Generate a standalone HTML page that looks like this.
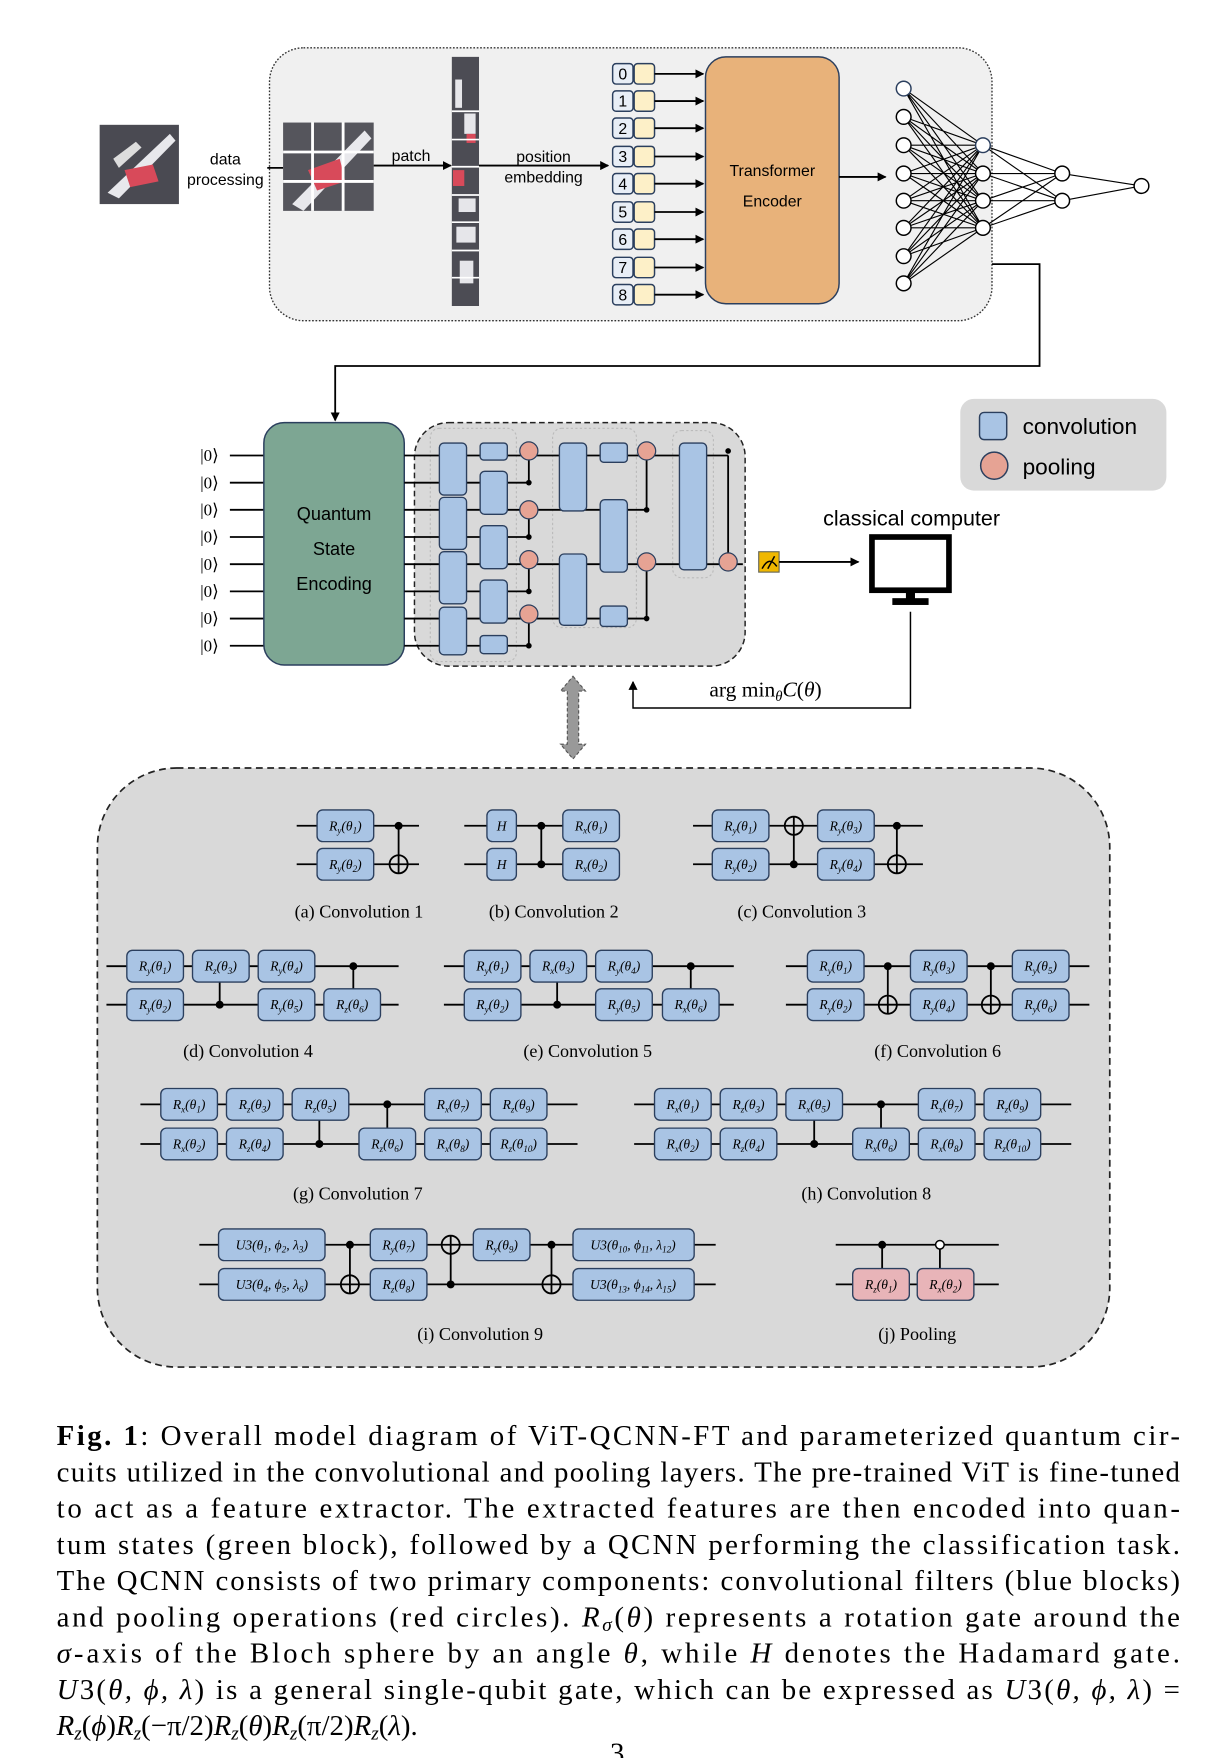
<!DOCTYPE html>
<html><head><meta charset="utf-8"><style>
html,body{margin:0;padding:0;background:#fff}
svg{display:block}
.sa{font-family:"Liberation Sans",sans-serif}
.se{font-family:"Liberation Serif",serif}
.g{font-family:"Liberation Serif",serif;font-size:12px;font-style:italic;text-anchor:middle}
.s{font-size:8px}
.cap{font-family:"Liberation Serif",serif;font-size:16px;text-anchor:middle}
.w{stroke:#000;stroke-width:1.6}
.b{fill:#a9c4e4;stroke:#2b3f5e;stroke-width:1.2}
.p{fill:#e8b4b8;stroke:#2b3f5e;stroke-width:1.2}
.t{font-family:"Liberation Serif",serif;font-size:25.5px}
</style></head><body>
<svg width="1223" height="1758" viewBox="0 0 1080 1552" xmlns="http://www.w3.org/2000/svg">
<defs>
<marker id="ah" markerWidth="8" markerHeight="8" refX="7" refY="4" orient="auto" markerUnits="userSpaceOnUse"><path d="M0,0 L8,4 L0,8 z" fill="#000"/></marker>
</defs>
<!-- TOP BOX -->
<rect x="238" y="42" width="638" height="241" rx="30" fill="#f0f0f0" stroke="#333" stroke-width="1.2" stroke-dasharray="1.5,1.5"/>
<rect x="88" y="110" width="70" height="70" fill="#4a4a52"/>
<path d="M95,170 L150,118 L155,124 L105,175 z" fill="#e8e8ec"/>
<path d="M110,150 L135,145 L140,160 L115,165 z" fill="#d84a5a"/>
<path d="M100,140 L120,125 L125,130 L105,148 z" fill="#ddd"/>
<text class="sa" x="199" y="145" font-size="14" text-anchor="middle">data</text>
<text class="sa" x="199" y="163" font-size="14" text-anchor="middle">processing</text>
<line x1="236" y1="148" x2="250" y2="148" class="w"/>
<rect x="250" y="108" width="80" height="78" fill="#55555c"/>
<path d="M258,180 L322,115 L328,122 L268,186 z" fill="#e8e8ec"/>
<path d="M272,150 L300,140 L305,160 L280,168 z" fill="#d84a5a"/>
<g stroke="#fff" stroke-width="2.5"><line x1="276" y1="108" x2="276" y2="186"/><line x1="303" y1="108" x2="303" y2="186"/><line x1="250" y1="134" x2="330" y2="134"/><line x1="250" y1="160" x2="330" y2="160"/></g>
<text class="sa" x="363" y="142" font-size="14" text-anchor="middle">patch</text>
<line x1="330" y1="146" x2="398" y2="146" class="w" marker-end="url(#ah)"/>
<rect x="399" y="50" width="24" height="220" fill="#4c4c54"/>
<g fill="#e6e6ea"><rect x="402" y="70" width="6" height="25"/><rect x="410" y="100" width="10" height="18"/><rect x="405" y="175" width="15" height="12"/><rect x="403" y="200" width="17" height="14"/><rect x="406" y="230" width="12" height="20"/></g>
<g fill="#d84a5a"><rect x="400" y="150" width="10" height="14"/><rect x="412" y="118" width="8" height="8"/></g>
<g stroke="#fff" stroke-width="1.5"><line x1="399" y1="98" x2="423" y2="98"/><line x1="399" y1="123" x2="423" y2="123"/><line x1="399" y1="147" x2="423" y2="147"/><line x1="399" y1="172" x2="423" y2="172"/><line x1="399" y1="196" x2="423" y2="196"/><line x1="399" y1="221" x2="423" y2="221"/><line x1="399" y1="245" x2="423" y2="245"/></g>
<text class="sa" x="480" y="143" font-size="14" text-anchor="middle">position</text>
<text class="sa" x="480" y="161" font-size="14" text-anchor="middle">embedding</text>
<line x1="423" y1="146" x2="537" y2="146" class="w" marker-end="url(#ah)"/>
<g class="sa" font-size="14" text-anchor="middle">
<g><rect x="541" y="56" width="18" height="18" rx="3" fill="#e8eef6" stroke="#2b3f5e" stroke-width="1.3"/><rect x="560" y="56" width="18" height="18" rx="3" fill="#fdf0c8" stroke="#2b3f5e" stroke-width="1.3"/><text x="550" y="70">0</text><line x1="578" y1="65" x2="621" y2="65" class="w" marker-end="url(#ah)"/></g>
<g><rect x="541" y="80" width="18" height="18" rx="3" fill="#e8eef6" stroke="#2b3f5e" stroke-width="1.3"/><rect x="560" y="80" width="18" height="18" rx="3" fill="#fdf0c8" stroke="#2b3f5e" stroke-width="1.3"/><text x="550" y="94">1</text><line x1="578" y1="89" x2="621" y2="89" class="w" marker-end="url(#ah)"/></g>
<g><rect x="541" y="104" width="18" height="18" rx="3" fill="#e8eef6" stroke="#2b3f5e" stroke-width="1.3"/><rect x="560" y="104" width="18" height="18" rx="3" fill="#fdf0c8" stroke="#2b3f5e" stroke-width="1.3"/><text x="550" y="118">2</text><line x1="578" y1="113" x2="621" y2="113" class="w" marker-end="url(#ah)"/></g>
<g><rect x="541" y="129" width="18" height="18" rx="3" fill="#e8eef6" stroke="#2b3f5e" stroke-width="1.3"/><rect x="560" y="129" width="18" height="18" rx="3" fill="#fdf0c8" stroke="#2b3f5e" stroke-width="1.3"/><text x="550" y="143">3</text><line x1="578" y1="138" x2="621" y2="138" class="w" marker-end="url(#ah)"/></g>
<g><rect x="541" y="153" width="18" height="18" rx="3" fill="#e8eef6" stroke="#2b3f5e" stroke-width="1.3"/><rect x="560" y="153" width="18" height="18" rx="3" fill="#fdf0c8" stroke="#2b3f5e" stroke-width="1.3"/><text x="550" y="167">4</text><line x1="578" y1="162" x2="621" y2="162" class="w" marker-end="url(#ah)"/></g>
<g><rect x="541" y="178" width="18" height="18" rx="3" fill="#e8eef6" stroke="#2b3f5e" stroke-width="1.3"/><rect x="560" y="178" width="18" height="18" rx="3" fill="#fdf0c8" stroke="#2b3f5e" stroke-width="1.3"/><text x="550" y="192">5</text><line x1="578" y1="187" x2="621" y2="187" class="w" marker-end="url(#ah)"/></g>
<g><rect x="541" y="202" width="18" height="18" rx="3" fill="#e8eef6" stroke="#2b3f5e" stroke-width="1.3"/><rect x="560" y="202" width="18" height="18" rx="3" fill="#fdf0c8" stroke="#2b3f5e" stroke-width="1.3"/><text x="550" y="216">6</text><line x1="578" y1="211" x2="621" y2="211" class="w" marker-end="url(#ah)"/></g>
<g><rect x="541" y="227" width="18" height="18" rx="3" fill="#e8eef6" stroke="#2b3f5e" stroke-width="1.3"/><rect x="560" y="227" width="18" height="18" rx="3" fill="#fdf0c8" stroke="#2b3f5e" stroke-width="1.3"/><text x="550" y="241">7</text><line x1="578" y1="236" x2="621" y2="236" class="w" marker-end="url(#ah)"/></g>
<g><rect x="541" y="251" width="18" height="18" rx="3" fill="#e8eef6" stroke="#2b3f5e" stroke-width="1.3"/><rect x="560" y="251" width="18" height="18" rx="3" fill="#fdf0c8" stroke="#2b3f5e" stroke-width="1.3"/><text x="550" y="265">8</text><line x1="578" y1="260" x2="621" y2="260" class="w" marker-end="url(#ah)"/></g>
</g>
<rect x="623" y="50" width="118" height="218" rx="18" fill="#e8b27a" stroke="#2b3f5e" stroke-width="1.3"/>
<text class="sa" x="682" y="155" font-size="14" text-anchor="middle">Transformer</text>
<text class="sa" x="682" y="182" font-size="14" text-anchor="middle">Encoder</text>
<line x1="741" y1="156" x2="782" y2="156" class="w" marker-end="url(#ah)"/>
<g stroke="#000" stroke-width="1">
<path d="M798,78L868,128M798,78L868,153M798,78L868,177M798,78L868,201
M798,103L868,128M798,103L868,153M798,103L868,177M798,103L868,201
M798,128L868,128M798,128L868,153M798,128L868,177M798,128L868,201
M798,153L868,128M798,153L868,153M798,153L868,177M798,153L868,201
M798,177L868,128M798,177L868,153M798,177L868,177M798,177L868,201
M798,201L868,128M798,201L868,153M798,201L868,177M798,201L868,201
M798,226L868,128M798,226L868,153M798,226L868,177M798,226L868,201
M798,250L868,128M798,250L868,153M798,250L868,177M798,250L868,201
M868,128L938,153M868,128L938,177M868,153L938,153M868,153L938,177M868,177L938,153M868,177L938,177M868,201L938,153M868,201L938,177
M938,153L1008,164M938,177L1008,164"/>
</g>
<g fill="#fff" stroke="#000" stroke-width="1.3">
<circle cx="798" cy="78" r="6.5" stroke="#2b3f5e"/><circle cx="798" cy="103" r="6.5"/><circle cx="798" cy="128" r="6.5"/><circle cx="798" cy="153" r="6.5"/><circle cx="798" cy="177" r="6.5"/><circle cx="798" cy="201" r="6.5"/><circle cx="798" cy="226" r="6.5"/><circle cx="798" cy="250" r="6.5"/>
<circle cx="868" cy="128" r="6.5" stroke="#2b3f5e"/><circle cx="868" cy="153" r="6.5"/><circle cx="868" cy="177" r="6.5"/><circle cx="868" cy="201" r="6.5"/>
<circle cx="938" cy="153" r="6.5"/><circle cx="938" cy="177" r="6.5"/><circle cx="1008" cy="164" r="6.5"/>
</g>
<path d="M876,233 L918,233 L918,323 L296,323 L296,371" fill="none" class="w" marker-end="url(#ah)"/>
<g class="se" font-size="15" text-anchor="middle">
<text x="185" y="407">|0⟩</text><text x="185" y="431">|0⟩</text><text x="185" y="455">|0⟩</text><text x="185" y="479">|0⟩</text><text x="185" y="503">|0⟩</text><text x="185" y="527">|0⟩</text><text x="185" y="551">|0⟩</text><text x="185" y="575">|0⟩</text>
</g>
<g class="w"><line x1="203" y1="402" x2="234" y2="402"/><line x1="203" y1="426" x2="234" y2="426"/><line x1="203" y1="450" x2="234" y2="450"/><line x1="203" y1="474" x2="234" y2="474"/><line x1="203" y1="498" x2="234" y2="498"/><line x1="203" y1="522" x2="234" y2="522"/><line x1="203" y1="546" x2="234" y2="546"/><line x1="203" y1="570" x2="234" y2="570"/></g>
<rect x="233" y="373" width="124" height="214" rx="18" fill="#7da693" stroke="#2b3f5e" stroke-width="1.3"/>
<text class="sa" x="295" y="459" font-size="16" text-anchor="middle">Quantum</text>
<text class="sa" x="295" y="490" font-size="16" text-anchor="middle">State</text>
<text class="sa" x="295" y="521" font-size="16" text-anchor="middle">Encoding</text>
<rect x="366" y="373" width="292" height="215" rx="30" fill="#d9d9d9" stroke="#222" stroke-width="1.3" stroke-dasharray="5,3"/>
<g fill="none" stroke="#bbb" stroke-width="1" stroke-dasharray="2,2"><rect x="380" y="378" width="76" height="206" rx="8"/><rect x="488" y="378" width="74" height="176" rx="8"/><rect x="594" y="380" width="36" height="130" rx="8"/></g>
<g class="w">
<line x1="357" y1="402" x2="643" y2="402"/><line x1="357" y1="426" x2="467" y2="426"/><line x1="357" y1="450" x2="571" y2="450"/><line x1="357" y1="474" x2="467" y2="474"/><line x1="357" y1="498" x2="656" y2="498"/><line x1="357" y1="522" x2="467" y2="522"/><line x1="357" y1="546" x2="571" y2="546"/><line x1="357" y1="570" x2="467" y2="570"/>
<line x1="467" y1="402" x2="467" y2="426"/><line x1="467" y1="450" x2="467" y2="474"/><line x1="467" y1="498" x2="467" y2="522"/><line x1="467" y1="546" x2="467" y2="570"/>
<line x1="571" y1="402" x2="571" y2="450"/><line x1="571" y1="498" x2="571" y2="546"/><line x1="643" y1="402" x2="643" y2="498"/>
</g>
<g class="b">
<rect x="388" y="391" width="24" height="46" rx="4"/><rect x="388" y="439" width="24" height="46" rx="4"/><rect x="388" y="487" width="24" height="46" rx="4"/><rect x="388" y="536" width="24" height="42" rx="4"/>
<rect x="424" y="391" width="24" height="15" rx="3"/><rect x="424" y="416" width="24" height="38" rx="4"/><rect x="424" y="464" width="24" height="38" rx="4"/><rect x="424" y="512" width="24" height="38" rx="4"/><rect x="424" y="561" width="24" height="16" rx="3"/>
<rect x="494" y="391" width="24" height="60" rx="4"/><rect x="494" y="489" width="24" height="63" rx="4"/>
<rect x="530" y="391" width="24" height="17" rx="3"/><rect x="530" y="441" width="24" height="64" rx="4"/><rect x="530" y="535" width="24" height="18" rx="3"/>
<rect x="600" y="391" width="24" height="112" rx="4"/>
</g>
<g fill="#e6a394" stroke="#2b3f5e" stroke-width="1.1"><circle cx="467" cy="398" r="8"/><circle cx="467" cy="450" r="8"/><circle cx="467" cy="494" r="8"/><circle cx="467" cy="542" r="8"/><circle cx="571" cy="398" r="8"/><circle cx="571" cy="496" r="8"/><circle cx="643" cy="496" r="8"/></g>
<g fill="#000"><circle cx="467" cy="426" r="2.5"/><circle cx="467" cy="474" r="2.5"/><circle cx="467" cy="522" r="2.5"/><circle cx="467" cy="570" r="2.5"/><circle cx="571" cy="450" r="2.5"/><circle cx="571" cy="546" r="2.5"/><circle cx="643" cy="398" r="2.5"/></g>
<rect x="670" y="487" width="18" height="18" fill="#f0b800" stroke="#665" stroke-width="1"/>
<path d="M673,502 Q679,490 686,500 M678,502 L684,491" fill="none" stroke="#000" stroke-width="1.3"/>
<line x1="688" y1="496" x2="758" y2="496" class="w" marker-end="url(#ah)"/>
<text class="sa" x="805" y="464" font-size="19" text-anchor="middle">classical computer</text>
<rect x="770" y="474" width="68" height="47" fill="#fff" stroke="#000" stroke-width="5"/>
<rect x="800" y="522" width="8" height="8" fill="#000"/><rect x="788" y="528" width="32" height="6" fill="#000"/>
<path d="M804,540 L804,625 L559,625 L559,602" fill="none" stroke="#000" stroke-width="1.3" marker-end="url(#ah)"/>
<text class="se" x="676" y="615" font-size="19" text-anchor="middle">arg min<tspan font-style="italic" font-size="13" dy="4">θ</tspan><tspan font-style="italic" dy="-4">C</tspan>(<tspan font-style="italic">θ</tspan>)</text>
<path d="M506,597 L517,610 L511,610 L511,657 L517,657 L506,670 L495,657 L501,657 L501,610 L495,610 z" fill="#999" stroke="#555" stroke-width="1" stroke-dasharray="3,2"/>
<rect x="848" y="352" width="182" height="81" rx="12" fill="#d9d9d9"/>
<rect x="865" y="364" width="24" height="24" rx="4" fill="#a9c4e4" stroke="#2b3f5e" stroke-width="1.3"/>
<text class="sa" x="903" y="383" font-size="20">convolution</text>
<circle cx="878" cy="411" r="12" fill="#e6a394" stroke="#2b3f5e" stroke-width="1.3"/>
<text class="sa" x="903" y="419" font-size="20">pooling</text>
<!-- BOTTOM BOX -->
<rect x="86" y="678" width="894" height="529" rx="70" fill="#d9d9d9" stroke="#222" stroke-width="1.5" stroke-dasharray="6,4"/>
<g class="w"><line x1="262" y1="729" x2="370" y2="729"/><line x1="262" y1="763" x2="370" y2="763"/><line x1="352" y1="729" x2="352" y2="771"/></g>
<rect class="b" x="280" y="715" width="50" height="28" rx="5"/><text class="g" x="305" y="733">R<tspan class="s" dy="3">y</tspan><tspan dy="-3">(θ</tspan><tspan class="s" dy="3">1</tspan><tspan dy="-3">)</tspan></text>
<rect class="b" x="280" y="749" width="50" height="28" rx="5"/><text class="g" x="305" y="767">R<tspan class="s" dy="3">y</tspan><tspan dy="-3">(θ</tspan><tspan class="s" dy="3">2</tspan><tspan dy="-3">)</tspan></text>
<circle cx="352" cy="729" r="3.5"/><circle cx="352" cy="763" r="8" fill="none" class="w"/>
<text class="cap" x="317" y="810">(a) Convolution 1</text>
<g class="w"><line x1="410" y1="729" x2="547" y2="729"/><line x1="410" y1="763" x2="547" y2="763"/><line x1="478" y1="729" x2="478" y2="763"/></g>
<rect class="b" x="430" y="715" width="26" height="28" rx="5"/><text class="g" x="443" y="733">H</text>
<rect class="b" x="430" y="749" width="26" height="28" rx="5"/><text class="g" x="443" y="767">H</text>
<circle cx="478" cy="729" r="3.5"/><circle cx="478" cy="763" r="3.5"/>
<rect class="b" x="497" y="715" width="50" height="28" rx="5"/><text class="g" x="522" y="733">R<tspan class="s" dy="3">x</tspan><tspan dy="-3">(θ</tspan><tspan class="s" dy="3">1</tspan><tspan dy="-3">)</tspan></text>
<rect class="b" x="497" y="749" width="50" height="28" rx="5"/><text class="g" x="522" y="767">R<tspan class="s" dy="3">x</tspan><tspan dy="-3">(θ</tspan><tspan class="s" dy="3">2</tspan><tspan dy="-3">)</tspan></text>
<text class="cap" x="489" y="810">(b) Convolution 2</text>
<g class="w"><line x1="612" y1="729" x2="815" y2="729"/><line x1="612" y1="763" x2="815" y2="763"/><line x1="701" y1="721" x2="701" y2="763"/><line x1="792" y1="729" x2="792" y2="771"/></g>
<rect class="b" x="629" y="715" width="50" height="28" rx="5"/><text class="g" x="654" y="733">R<tspan class="s" dy="3">y</tspan><tspan dy="-3">(θ</tspan><tspan class="s" dy="3">1</tspan><tspan dy="-3">)</tspan></text>
<rect class="b" x="629" y="749" width="50" height="28" rx="5"/><text class="g" x="654" y="767">R<tspan class="s" dy="3">y</tspan><tspan dy="-3">(θ</tspan><tspan class="s" dy="3">2</tspan><tspan dy="-3">)</tspan></text>
<circle cx="701" cy="729" r="8" fill="none" class="w"/><circle cx="701" cy="763" r="3.5"/>
<rect class="b" x="722" y="715" width="50" height="28" rx="5"/><text class="g" x="747" y="733">R<tspan class="s" dy="3">y</tspan><tspan dy="-3">(θ</tspan><tspan class="s" dy="3">3</tspan><tspan dy="-3">)</tspan></text>
<rect class="b" x="722" y="749" width="50" height="28" rx="5"/><text class="g" x="747" y="767">R<tspan class="s" dy="3">y</tspan><tspan dy="-3">(θ</tspan><tspan class="s" dy="3">4</tspan><tspan dy="-3">)</tspan></text>
<circle cx="792" cy="729" r="3.5"/><circle cx="792" cy="763" r="8" fill="none" class="w"/>
<text class="cap" x="708" y="810">(c) Convolution 3</text>
<g class="w"><line x1="94" y1="853" x2="352" y2="853"/><line x1="94" y1="887" x2="352" y2="887"/><line x1="194" y1="867" x2="194" y2="887"/><line x1="312" y1="853" x2="312" y2="873"/></g>
<rect class="b" x="112" y="839" width="50" height="28" rx="5"/><text class="g" x="137" y="857">R<tspan class="s" dy="3">y</tspan><tspan dy="-3">(θ</tspan><tspan class="s" dy="3">1</tspan><tspan dy="-3">)</tspan></text>
<rect class="b" x="170" y="839" width="50" height="28" rx="5"/><text class="g" x="195" y="857">R<tspan class="s" dy="3">z</tspan><tspan dy="-3">(θ</tspan><tspan class="s" dy="3">3</tspan><tspan dy="-3">)</tspan></text>
<rect class="b" x="228" y="839" width="50" height="28" rx="5"/><text class="g" x="253" y="857">R<tspan class="s" dy="3">y</tspan><tspan dy="-3">(θ</tspan><tspan class="s" dy="3">4</tspan><tspan dy="-3">)</tspan></text>
<rect class="b" x="112" y="873" width="50" height="28" rx="5"/><text class="g" x="137" y="891">R<tspan class="s" dy="3">y</tspan><tspan dy="-3">(θ</tspan><tspan class="s" dy="3">2</tspan><tspan dy="-3">)</tspan></text>
<rect class="b" x="228" y="873" width="50" height="28" rx="5"/><text class="g" x="253" y="891">R<tspan class="s" dy="3">y</tspan><tspan dy="-3">(θ</tspan><tspan class="s" dy="3">5</tspan><tspan dy="-3">)</tspan></text>
<rect class="b" x="286" y="873" width="50" height="28" rx="5"/><text class="g" x="311" y="891">R<tspan class="s" dy="3">z</tspan><tspan dy="-3">(θ</tspan><tspan class="s" dy="3">6</tspan><tspan dy="-3">)</tspan></text>
<circle cx="194" cy="887" r="3.5"/><circle cx="312" cy="853" r="3.5"/>
<text class="cap" x="219" y="933">(d) Convolution 4</text>
<g class="w"><line x1="392" y1="853" x2="648" y2="853"/><line x1="392" y1="887" x2="648" y2="887"/><line x1="492" y1="867" x2="492" y2="887"/><line x1="610" y1="853" x2="610" y2="873"/></g>
<rect class="b" x="410" y="839" width="50" height="28" rx="5"/><text class="g" x="435" y="857">R<tspan class="s" dy="3">y</tspan><tspan dy="-3">(θ</tspan><tspan class="s" dy="3">1</tspan><tspan dy="-3">)</tspan></text>
<rect class="b" x="468" y="839" width="50" height="28" rx="5"/><text class="g" x="493" y="857">R<tspan class="s" dy="3">x</tspan><tspan dy="-3">(θ</tspan><tspan class="s" dy="3">3</tspan><tspan dy="-3">)</tspan></text>
<rect class="b" x="526" y="839" width="50" height="28" rx="5"/><text class="g" x="551" y="857">R<tspan class="s" dy="3">y</tspan><tspan dy="-3">(θ</tspan><tspan class="s" dy="3">4</tspan><tspan dy="-3">)</tspan></text>
<rect class="b" x="410" y="873" width="50" height="28" rx="5"/><text class="g" x="435" y="891">R<tspan class="s" dy="3">y</tspan><tspan dy="-3">(θ</tspan><tspan class="s" dy="3">2</tspan><tspan dy="-3">)</tspan></text>
<rect class="b" x="526" y="873" width="50" height="28" rx="5"/><text class="g" x="551" y="891">R<tspan class="s" dy="3">y</tspan><tspan dy="-3">(θ</tspan><tspan class="s" dy="3">5</tspan><tspan dy="-3">)</tspan></text>
<rect class="b" x="585" y="873" width="50" height="28" rx="5"/><text class="g" x="610" y="891">R<tspan class="s" dy="3">x</tspan><tspan dy="-3">(θ</tspan><tspan class="s" dy="3">6</tspan><tspan dy="-3">)</tspan></text>
<circle cx="492" cy="887" r="3.5"/><circle cx="610" cy="853" r="3.5"/>
<text class="cap" x="519" y="933">(e) Convolution 5</text>
<g class="w"><line x1="694" y1="853" x2="962" y2="853"/><line x1="694" y1="887" x2="962" y2="887"/><line x1="784" y1="853" x2="784" y2="895"/><line x1="875" y1="853" x2="875" y2="895"/></g>
<rect class="b" x="713" y="839" width="50" height="28" rx="5"/><text class="g" x="738" y="857">R<tspan class="s" dy="3">y</tspan><tspan dy="-3">(θ</tspan><tspan class="s" dy="3">1</tspan><tspan dy="-3">)</tspan></text>
<rect class="b" x="713" y="873" width="50" height="28" rx="5"/><text class="g" x="738" y="891">R<tspan class="s" dy="3">y</tspan><tspan dy="-3">(θ</tspan><tspan class="s" dy="3">2</tspan><tspan dy="-3">)</tspan></text>
<rect class="b" x="804" y="839" width="50" height="28" rx="5"/><text class="g" x="829" y="857">R<tspan class="s" dy="3">y</tspan><tspan dy="-3">(θ</tspan><tspan class="s" dy="3">3</tspan><tspan dy="-3">)</tspan></text>
<rect class="b" x="804" y="873" width="50" height="28" rx="5"/><text class="g" x="829" y="891">R<tspan class="s" dy="3">y</tspan><tspan dy="-3">(θ</tspan><tspan class="s" dy="3">4</tspan><tspan dy="-3">)</tspan></text>
<rect class="b" x="894" y="839" width="50" height="28" rx="5"/><text class="g" x="919" y="857">R<tspan class="s" dy="3">y</tspan><tspan dy="-3">(θ</tspan><tspan class="s" dy="3">5</tspan><tspan dy="-3">)</tspan></text>
<rect class="b" x="894" y="873" width="50" height="28" rx="5"/><text class="g" x="919" y="891">R<tspan class="s" dy="3">y</tspan><tspan dy="-3">(θ</tspan><tspan class="s" dy="3">6</tspan><tspan dy="-3">)</tspan></text>
<circle cx="784" cy="853" r="3.5"/><circle cx="784" cy="887" r="8" fill="none" class="w"/><circle cx="875" cy="853" r="3.5"/><circle cx="875" cy="887" r="8" fill="none" class="w"/>
<text class="cap" x="828" y="933">(f) Convolution 6</text>
<g class="w"><line x1="124" y1="975" x2="510" y2="975"/><line x1="124" y1="1010" x2="510" y2="1010"/><line x1="282" y1="989" x2="282" y2="1010"/><line x1="342" y1="975" x2="342" y2="996"/></g>
<rect class="b" x="142" y="961" width="50" height="28" rx="5"/><text class="g" x="167" y="979">R<tspan class="s" dy="3">x</tspan><tspan dy="-3">(θ</tspan><tspan class="s" dy="3">1</tspan><tspan dy="-3">)</tspan></text>
<rect class="b" x="200" y="961" width="50" height="28" rx="5"/><text class="g" x="225" y="979">R<tspan class="s" dy="3">z</tspan><tspan dy="-3">(θ</tspan><tspan class="s" dy="3">3</tspan><tspan dy="-3">)</tspan></text>
<rect class="b" x="258" y="961" width="50" height="28" rx="5"/><text class="g" x="283" y="979">R<tspan class="s" dy="3">z</tspan><tspan dy="-3">(θ</tspan><tspan class="s" dy="3">5</tspan><tspan dy="-3">)</tspan></text>
<rect class="b" x="142" y="996" width="50" height="28" rx="5"/><text class="g" x="167" y="1014">R<tspan class="s" dy="3">x</tspan><tspan dy="-3">(θ</tspan><tspan class="s" dy="3">2</tspan><tspan dy="-3">)</tspan></text>
<rect class="b" x="200" y="996" width="50" height="28" rx="5"/><text class="g" x="225" y="1014">R<tspan class="s" dy="3">z</tspan><tspan dy="-3">(θ</tspan><tspan class="s" dy="3">4</tspan><tspan dy="-3">)</tspan></text>
<rect class="b" x="317" y="996" width="50" height="28" rx="5"/><text class="g" x="342" y="1014">R<tspan class="s" dy="3">z</tspan><tspan dy="-3">(θ</tspan><tspan class="s" dy="3">6</tspan><tspan dy="-3">)</tspan></text>
<rect class="b" x="375" y="961" width="50" height="28" rx="5"/><text class="g" x="400" y="979">R<tspan class="s" dy="3">x</tspan><tspan dy="-3">(θ</tspan><tspan class="s" dy="3">7</tspan><tspan dy="-3">)</tspan></text>
<rect class="b" x="375" y="996" width="50" height="28" rx="5"/><text class="g" x="400" y="1014">R<tspan class="s" dy="3">x</tspan><tspan dy="-3">(θ</tspan><tspan class="s" dy="3">8</tspan><tspan dy="-3">)</tspan></text>
<rect class="b" x="433" y="961" width="50" height="28" rx="5"/><text class="g" x="458" y="979">R<tspan class="s" dy="3">z</tspan><tspan dy="-3">(θ</tspan><tspan class="s" dy="3">9</tspan><tspan dy="-3">)</tspan></text>
<rect class="b" x="433" y="996" width="50" height="28" rx="5"/><text class="g" x="458" y="1014">R<tspan class="s" dy="3">z</tspan><tspan dy="-3">(θ</tspan><tspan class="s" dy="3">10</tspan><tspan dy="-3">)</tspan></text>
<circle cx="282" cy="1010" r="3.5"/><circle cx="342" cy="975" r="3.5"/>
<text class="cap" x="316" y="1059">(g) Convolution 7</text>
<g class="w"><line x1="560" y1="975" x2="946" y2="975"/><line x1="560" y1="1010" x2="946" y2="1010"/><line x1="719" y1="989" x2="719" y2="1010"/><line x1="778" y1="975" x2="778" y2="996"/></g>
<rect class="b" x="578" y="961" width="50" height="28" rx="5"/><text class="g" x="603" y="979">R<tspan class="s" dy="3">x</tspan><tspan dy="-3">(θ</tspan><tspan class="s" dy="3">1</tspan><tspan dy="-3">)</tspan></text>
<rect class="b" x="636" y="961" width="50" height="28" rx="5"/><text class="g" x="661" y="979">R<tspan class="s" dy="3">z</tspan><tspan dy="-3">(θ</tspan><tspan class="s" dy="3">3</tspan><tspan dy="-3">)</tspan></text>
<rect class="b" x="694" y="961" width="50" height="28" rx="5"/><text class="g" x="719" y="979">R<tspan class="s" dy="3">x</tspan><tspan dy="-3">(θ</tspan><tspan class="s" dy="3">5</tspan><tspan dy="-3">)</tspan></text>
<rect class="b" x="578" y="996" width="50" height="28" rx="5"/><text class="g" x="603" y="1014">R<tspan class="s" dy="3">x</tspan><tspan dy="-3">(θ</tspan><tspan class="s" dy="3">2</tspan><tspan dy="-3">)</tspan></text>
<rect class="b" x="636" y="996" width="50" height="28" rx="5"/><text class="g" x="661" y="1014">R<tspan class="s" dy="3">z</tspan><tspan dy="-3">(θ</tspan><tspan class="s" dy="3">4</tspan><tspan dy="-3">)</tspan></text>
<rect class="b" x="753" y="996" width="50" height="28" rx="5"/><text class="g" x="778" y="1014">R<tspan class="s" dy="3">x</tspan><tspan dy="-3">(θ</tspan><tspan class="s" dy="3">6</tspan><tspan dy="-3">)</tspan></text>
<rect class="b" x="811" y="961" width="50" height="28" rx="5"/><text class="g" x="836" y="979">R<tspan class="s" dy="3">x</tspan><tspan dy="-3">(θ</tspan><tspan class="s" dy="3">7</tspan><tspan dy="-3">)</tspan></text>
<rect class="b" x="811" y="996" width="50" height="28" rx="5"/><text class="g" x="836" y="1014">R<tspan class="s" dy="3">x</tspan><tspan dy="-3">(θ</tspan><tspan class="s" dy="3">8</tspan><tspan dy="-3">)</tspan></text>
<rect class="b" x="869" y="961" width="50" height="28" rx="5"/><text class="g" x="894" y="979">R<tspan class="s" dy="3">z</tspan><tspan dy="-3">(θ</tspan><tspan class="s" dy="3">9</tspan><tspan dy="-3">)</tspan></text>
<rect class="b" x="869" y="996" width="50" height="28" rx="5"/><text class="g" x="894" y="1014">R<tspan class="s" dy="3">z</tspan><tspan dy="-3">(θ</tspan><tspan class="s" dy="3">10</tspan><tspan dy="-3">)</tspan></text>
<circle cx="719" cy="1010" r="3.5"/><circle cx="778" cy="975" r="3.5"/>
<text class="cap" x="765" y="1059">(h) Convolution 8</text>
<g class="w"><line x1="176" y1="1099" x2="632" y2="1099"/><line x1="176" y1="1134" x2="632" y2="1134"/><line x1="309" y1="1099" x2="309" y2="1142"/><line x1="398" y1="1091" x2="398" y2="1134"/><line x1="487" y1="1099" x2="487" y2="1142"/></g>
<rect class="b" x="193" y="1085" width="94" height="28" rx="5"/><text class="g" x="240" y="1103">U3(θ<tspan class="s" dy="3">1</tspan><tspan dy="-3">, ϕ</tspan><tspan class="s" dy="3">2</tspan><tspan dy="-3">, λ</tspan><tspan class="s" dy="3">3</tspan><tspan dy="-3">)</tspan></text>
<rect class="b" x="193" y="1120" width="94" height="28" rx="5"/><text class="g" x="240" y="1138">U3(θ<tspan class="s" dy="3">4</tspan><tspan dy="-3">, ϕ</tspan><tspan class="s" dy="3">5</tspan><tspan dy="-3">, λ</tspan><tspan class="s" dy="3">6</tspan><tspan dy="-3">)</tspan></text>
<rect class="b" x="327" y="1085" width="50" height="28" rx="5"/><text class="g" x="352" y="1103">R<tspan class="s" dy="3">y</tspan><tspan dy="-3">(θ</tspan><tspan class="s" dy="3">7</tspan><tspan dy="-3">)</tspan></text>
<rect class="b" x="327" y="1120" width="50" height="28" rx="5"/><text class="g" x="352" y="1138">R<tspan class="s" dy="3">z</tspan><tspan dy="-3">(θ</tspan><tspan class="s" dy="3">8</tspan><tspan dy="-3">)</tspan></text>
<rect class="b" x="418" y="1085" width="50" height="28" rx="5"/><text class="g" x="443" y="1103">R<tspan class="s" dy="3">y</tspan><tspan dy="-3">(θ</tspan><tspan class="s" dy="3">9</tspan><tspan dy="-3">)</tspan></text>
<rect class="b" x="506" y="1085" width="107" height="28" rx="5"/><text class="g" x="559" y="1103">U3(θ<tspan class="s" dy="3">10</tspan><tspan dy="-3">, ϕ</tspan><tspan class="s" dy="3">11</tspan><tspan dy="-3">, λ</tspan><tspan class="s" dy="3">12</tspan><tspan dy="-3">)</tspan></text>
<rect class="b" x="506" y="1120" width="107" height="28" rx="5"/><text class="g" x="559" y="1138">U3(θ<tspan class="s" dy="3">13</tspan><tspan dy="-3">, ϕ</tspan><tspan class="s" dy="3">14</tspan><tspan dy="-3">, λ</tspan><tspan class="s" dy="3">15</tspan><tspan dy="-3">)</tspan></text>
<circle cx="309" cy="1099" r="3.5"/><circle cx="309" cy="1134" r="8" fill="none" class="w"/><circle cx="398" cy="1099" r="8" fill="none" class="w"/><circle cx="398" cy="1134" r="3.5"/><circle cx="487" cy="1099" r="3.5"/><circle cx="487" cy="1134" r="8" fill="none" class="w"/>
<text class="cap" x="424" y="1183">(i) Convolution 9</text>
<g class="w"><line x1="738" y1="1099" x2="882" y2="1099"/><line x1="738" y1="1134" x2="882" y2="1134"/><line x1="779" y1="1099" x2="779" y2="1120"/><line x1="830" y1="1103" x2="830" y2="1120"/></g>
<rect class="p" x="753" y="1120" width="50" height="28" rx="5"/><text class="g" x="778" y="1138">R<tspan class="s" dy="3">z</tspan><tspan dy="-3">(θ</tspan><tspan class="s" dy="3">1</tspan><tspan dy="-3">)</tspan></text>
<rect class="p" x="810" y="1120" width="50" height="28" rx="5"/><text class="g" x="835" y="1138">R<tspan class="s" dy="3">x</tspan><tspan dy="-3">(θ</tspan><tspan class="s" dy="3">2</tspan><tspan dy="-3">)</tspan></text>
<circle cx="779" cy="1099" r="3.5"/><circle cx="830" cy="1099" r="3.8" fill="#fff" stroke="#000" stroke-width="1.3"/>
<text class="cap" x="810" y="1183">(j) Pooling</text>
<!-- CAPTION -->
<g class="t">
<text x="50" y="1276" textLength="992" lengthAdjust="spacing"><tspan font-weight="bold">Fig. 1</tspan>:  Overall model diagram of ViT-QCNN-FT and parameterized quantum cir-</text>
<text x="50" y="1308" textLength="992" lengthAdjust="spacing">cuits utilized in the convolutional and pooling layers. The pre-trained ViT is fine-tuned</text>
<text x="50" y="1340" textLength="992" lengthAdjust="spacing">to act as a feature extractor. The extracted features are then encoded into quan-</text>
<text x="50" y="1372" textLength="992" lengthAdjust="spacing">tum states (green block), followed by a QCNN performing the classification task.</text>
<text x="50" y="1404" textLength="992" lengthAdjust="spacing">The QCNN consists of two primary components: convolutional filters (blue blocks)</text>
<text x="50" y="1436" textLength="992" lengthAdjust="spacing">and pooling operations (red circles). <tspan font-style="italic">R</tspan><tspan font-style="italic" font-size="17" dy="4">σ</tspan><tspan dy="-4">(</tspan><tspan font-style="italic">θ</tspan>) represents a rotation gate around the</text>
<text x="50" y="1468" textLength="992" lengthAdjust="spacing"><tspan font-style="italic">σ</tspan>-axis of the Bloch sphere by an angle <tspan font-style="italic">θ</tspan>, while <tspan font-style="italic">H</tspan> denotes the Hadamard gate.</text>
<text x="50" y="1500" textLength="992" lengthAdjust="spacing"><tspan font-style="italic">U</tspan>3(<tspan font-style="italic">θ, ϕ, λ</tspan>) is a general single-qubit gate, which can be expressed as <tspan font-style="italic">U</tspan>3(<tspan font-style="italic">θ, ϕ, λ</tspan>) =</text>
<text x="50" y="1532"><tspan font-style="italic">R</tspan><tspan font-style="italic" font-size="17" dy="4">z</tspan><tspan dy="-4">(</tspan><tspan font-style="italic">ϕ</tspan>)<tspan font-style="italic">R</tspan><tspan font-style="italic" font-size="17" dy="4">z</tspan><tspan dy="-4">(−π/2)</tspan><tspan font-style="italic">R</tspan><tspan font-style="italic" font-size="17" dy="4">z</tspan><tspan dy="-4">(</tspan><tspan font-style="italic">θ</tspan>)<tspan font-style="italic">R</tspan><tspan font-style="italic" font-size="17" dy="4">z</tspan><tspan dy="-4">(π/2)</tspan><tspan font-style="italic">R</tspan><tspan font-style="italic" font-size="17" dy="4">z</tspan><tspan dy="-4">(</tspan><tspan font-style="italic">λ</tspan>).</text>
<text x="545" y="1556" text-anchor="middle">3</text>
</g>
</svg>
</body></html>
